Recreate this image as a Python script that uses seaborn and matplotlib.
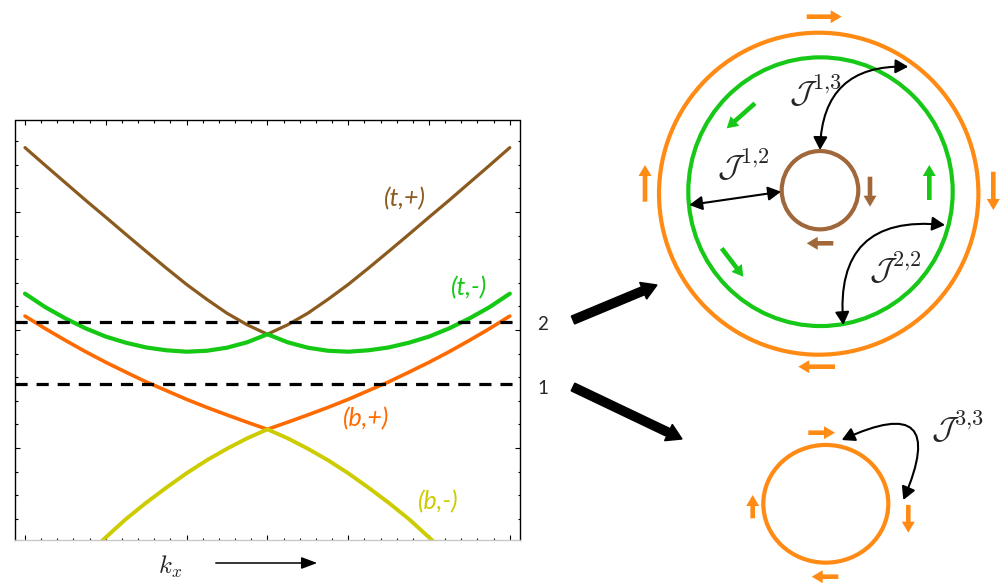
import matplotlib
matplotlib.use("Agg")
import matplotlib.pyplot as plt
import numpy as np
import pandas as pd
import seaborn as sns
from matplotlib.patches import Ellipse, FancyArrow, FancyArrowPatch
from matplotlib.ticker import MultipleLocator

# band data (kx, energy in tick units)
kx = [-3, -2.75, -2.5, -2.25, -2, -1.75, -1.5, -1.25, -1, -0.75, -0.5, -0.25, 0,
      0.25, 0.5, 0.75, 1, 1.25, 1.5, 1.75, 2, 2.25, 2.5, 2.75, 3]
t_plus = [7.73, 6.98, 6.24, 5.50, 4.78, 4.05, 3.33, 2.62, 1.93, 1.30, 0.71, 0.22, -0.18,
          0.22, 0.71, 1.30, 1.93, 2.62, 3.33, 4.05, 4.78, 5.50, 6.24, 6.98, 7.73]
t_minus = [1.54, 0.97, 0.49, 0.07, -0.28, -0.54, -0.74, -0.86, -0.92, -0.88, -0.75, -0.52, -0.18,
           -0.52, -0.75, -0.88, -0.92, -0.86, -0.74, -0.54, -0.28, 0.07, 0.49, 0.97, 1.54]
b_plus = [0.59, 0.06, -0.44, -0.92, -1.37, -1.79, -2.20, -2.57, -2.94, -3.28, -3.60, -3.91, -4.21,
          -3.91, -3.60, -3.28, -2.94, -2.57, -2.20, -1.79, -1.37, -0.92, -0.44, 0.06, 0.59]
kx_bm = [-2.25, -2, -1.75, -1.5, -1.25, -1, -0.75, -0.5, -0.25, 0,
         0.25, 0.5, 0.75, 1, 1.25, 1.5, 1.75, 2, 2.25]
b_minus = [-9.56, -8.79, -8.01, -7.32, -6.68, -6.07, -5.52, -5.03, -4.59, -4.21,
           -4.59, -5.03, -5.52, -6.07, -6.68, -7.32, -8.01, -8.79, -9.56]
fermi_levels = [0.34, -2.30]
level_names = ["2", "1"]

band_labels = ["(t,+)", "(t,-)", "(b,+)", "(b,-)"]
band_colors = ["#8b5a1e", "#14c814", "#ff6a00", "#cccc00"]
band_widths = [2.3, 3.0, 2.6, 2.8]

sns.set_theme(style="ticks")
plt.rcParams["mathtext.fontset"] = "cm"
plt.rcParams["font.family"] = ["Lato", "DejaVu Sans"]

fig = plt.figure(figsize=(10.02, 5.85), dpi=100)
W, H = 1002, 585
ax = fig.add_axes([14.5 / W, (H - 539.5) / H, 505.8 / W, 419 / H])

bands = [(kx, t_plus), (kx, t_minus), (kx, b_plus), (kx_bm, b_minus)]
for (xs, ys), name, c, lw in zip(bands, band_labels, band_colors, band_widths):
    df = pd.DataFrame({"kx": xs, "E": ys})
    sns.lineplot(data=df, x="kx", y="E", color=c, lw=lw, ax=ax, legend=False)

for lev in fermi_levels:
    ax.axhline(lev, color="black", lw=2.3, linestyle=(0, (3.8, 2.8)))

ax.set_xlim(-3.13, 3.13)
ax.set_ylim(-8.88, 8.88)
ax.xaxis.set_major_locator(MultipleLocator(1))
ax.xaxis.set_minor_locator(MultipleLocator(0.2))
ax.yaxis.set_major_locator(MultipleLocator(5))
ax.yaxis.set_minor_locator(MultipleLocator(1))
ax.tick_params(which="both", direction="in", top=True, right=True,
               labelbottom=False, labelleft=False, color="black", width=0.8)
ax.tick_params(which="major", length=3.6)
ax.tick_params(which="minor", length=1.8)
ax.set_xlabel("")
ax.set_ylabel("")
for s in ["left", "right", "top"]:
    ax.spines[s].set_color("black")
    ax.spines[s].set_linewidth(1.0)
ax.spines["bottom"].set_color("#c8c8c8")
ax.spines["bottom"].set_linewidth(1.0)

label_pos = [(1.70, 5.55), (2.50, 1.78), (1.22, -3.77), (2.11, -7.29)]
for (x, y), name, c in zip(label_pos, band_labels, band_colors):
    ax.text(x, y, name, color=c, fontsize=18, style="italic", ha="center", va="center")

# overlay in pixel coordinates for the diagrams
ov = fig.add_axes([0, 0, 1, 1])
ov.set_xlim(0, W)
ov.set_ylim(H, 0)
ov.axis("off")

ov.text(170, 567, r"$k_x$", fontsize=18, ha="center", va="center")
ov.annotate("", xy=(320, 563), xytext=(213, 563),
            arrowprops=dict(arrowstyle="-|>,head_length=0.8,head_width=0.3",
                            color="black", lw=1.1, mutation_scale=12))

for name, py in zip(level_names, [325, 388]):
    ov.text(543, py, name, fontsize=13.5, ha="center", va="center")

ov.add_patch(FancyArrow(573, 320, 84, -35, width=8.5, head_width=18, head_length=15,
                        length_includes_head=True, color="black"))
ov.add_patch(FancyArrow(573, 387, 109, 52, width=8.5, head_width=18, head_length=15,
                        length_includes_head=True, color="black"))

orange = "#ff8a14"
green = "#18c818"
brown = "#a0683a"

ov.add_patch(Ellipse((818.7, 193.7), 319.4, 322, fill=False, ec=orange, lw=3.0))
ov.add_patch(Ellipse((820.5, 191.7), 264.4, 268.7, fill=False, ec=green, lw=3.0))
ov.add_patch(Ellipse((820, 190.2), 76.6, 78.3, fill=False, ec=brown, lw=3.0))
ov.add_patch(Ellipse((825.8, 503.8), 125, 117.7, fill=False, ec=orange, lw=3.0))


def small_arrow(x0, y0, x1, y1, c):
    ov.add_patch(FancyArrow(x0, y0, x1 - x0, y1 - y0, width=4.6, head_width=13,
                            head_length=11, length_includes_head=True, color=c, lw=0))


small_arrow(806.7, 16.7, 841.7, 16.7, orange)
small_arrow(645, 201.7, 645, 165, orange)
small_arrow(993.3, 171.7, 993.3, 210, orange)
small_arrow(835, 366.7, 798.3, 366.7, orange)
small_arrow(755, 103.3, 726.7, 128.3, green)
small_arrow(721.7, 248.3, 743.3, 276.7, green)
small_arrow(929.3, 200, 929.3, 165, green)
small_arrow(870, 176.7, 870, 206.7, brown)
small_arrow(833.3, 243.3, 806.7, 243.3, brown)
small_arrow(808.3, 432.7, 835, 432.7, orange)
small_arrow(752.7, 518.3, 752.7, 495, orange)
small_arrow(908.3, 505, 908.3, 532.7, orange)
small_arrow(838.3, 576.7, 811.7, 576.7, orange)


def coupling(p0, p1, rad):
    ov.add_patch(FancyArrowPatch(p0, p1, connectionstyle=f"arc3,rad={rad}",
                                 arrowstyle="<|-|>,head_length=0.55,head_width=0.3",
                                 mutation_scale=14, color="black", lw=1.5,
                                 shrinkA=0, shrinkB=0))


coupling((689.3, 205), (781, 191.7), 0)
coupling((820, 150), (908.3, 66.7), -0.5)
coupling((843.3, 325), (945, 225), -0.6)
coupling((841.7, 440), (903.3, 500), -1.3)

J_labels = [r"$\mathcal{J}^{1{,}2}$", r"$\mathcal{J}^{1{,}3}$", r"$\mathcal{J}^{2{,}2}$", r"$\mathcal{J}^{3{,}3}$"]
J_pos = [(743, 165), (815, 91), (895, 268), (957, 427)]
for t, (x, y) in zip(J_labels, J_pos):
    ov.text(x, y, t, fontsize=23, ha="center", va="center")

fig.savefig("out.png", dpi=100)
